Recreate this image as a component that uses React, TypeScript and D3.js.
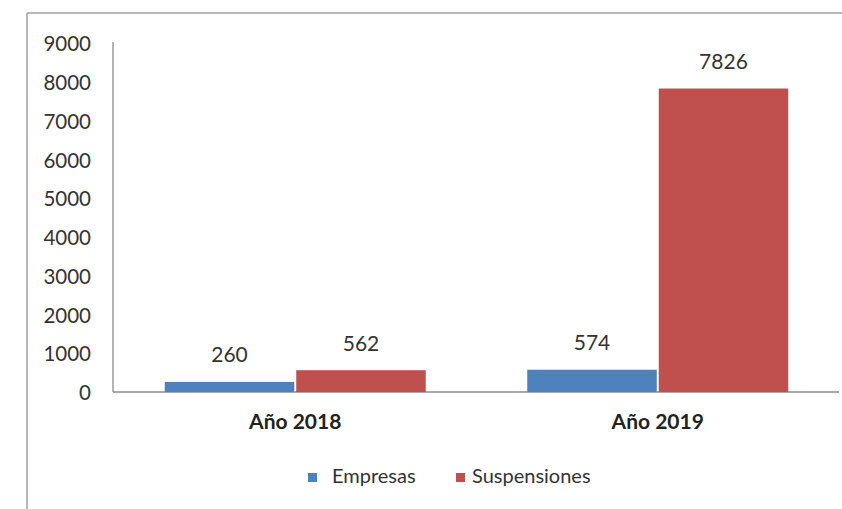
import React from "react";
import * as d3 from "d3";

const categories = ["Año 2018", "Año 2019"];
const seriesNames = ["Empresas", "Suspensiones"];
const empresas = [260, 574];
const suspensiones = [562, 7826];
const yTicks = [0, 1000, 2000, 3000, 4000, 5000, 6000, 7000, 8000, 9000];
const colors = ["#4F81BD", "#C0504D"];

const W = 842;
const H = 509;
const FONT = "Lato, 'Open Sans', sans-serif";

export default function App() {
  const left = 114;
  const right = 839;
  const top = 43;
  const bottom = 392;

  const x0 = d3.scaleBand<string>().domain(categories).range([left, right]).paddingInner(0).paddingOuter(0);
  const x1 = d3
    .scaleBand<string>()
    .domain(seriesNames)
    .range([0, x0.bandwidth()])
    .paddingInner(0.015)
    .paddingOuter(0.386);
  const y = d3.scaleLinear().domain([0, 9000]).range([bottom, top]);

  const series = [empresas, suspensiones];

  return (
    <svg
      width={W}
      height={H}
      style={{ position: "absolute", left: 0, top: 0, background: "#fff" }}
      fontFamily={FONT}
    >
      <rect x={0} y={0} width={W} height={H} fill="#fff" />
      {/* frame */}
      <line x1={27} y1={13} x2={W} y2={13} stroke="#a0a0a0" strokeWidth={1.5} />
      <line x1={27} y1={13} x2={27} y2={H} stroke="#a0a0a0" strokeWidth={1.5} />

      {/* axes */}
      <line x1={113} y1={top - 1} x2={113} y2={bottom} stroke="#8c8c8c" strokeWidth={1.3} />
      <line x1={113} y1={bottom} x2={right} y2={bottom} stroke="#8c8c8c" strokeWidth={1.3} />
      {yTicks.map((t) => (
        <text
          key={t}
          x={91}
          y={y(t) + 3}
          textAnchor="end"
          dominantBaseline="middle"
          fontSize={20.5}
          fill="#333"
        >
          {t}
        </text>
      ))}

      {/* bars */}
      {categories.map((c, ci) => (
        <g key={c} transform={`translate(${x0(c)},0)`}>
          {seriesNames.map((s, si) => {
            const v = series[si][ci];
            const bx = x1(s)!;
            const bw = x1.bandwidth();
            return (
              <g key={s}>
                <rect x={bx} y={y(v)} width={bw} height={bottom - y(v)} fill={colors[si]} />
                <text
                  x={bx + bw / 2}
                  y={y(v) - 25}
                  textAnchor="middle"
                  dominantBaseline="middle"
                  fontSize={21}
                  fill="#333"
                >
                  {v}
                </text>
              </g>
            );
          })}
          <text
            x={x0.bandwidth() / 2}
            y={424}
            textAnchor="middle"
            dominantBaseline="middle"
            fontSize={21}
            fontWeight="bold"
            fill="#222"
          >
            {c}
          </text>
        </g>
      ))}

      {/* legend */}
      {seriesNames.map((s, i) => {
        const lx = [308, 456][i];
        return (
          <g key={s}>
            <rect x={lx} y={473} width={9} height={9} fill={colors[i]} />
            <text x={[332, 472][i]} y={478} dominantBaseline="middle" fontSize={20} fill="#333">
              {s}
            </text>
          </g>
        );
      })}
    </svg>
  );
}
